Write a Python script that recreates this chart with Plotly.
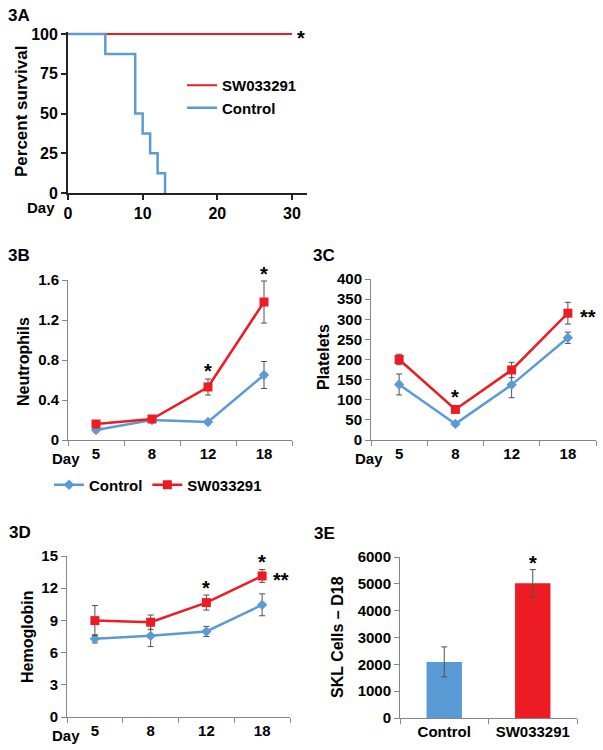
import plotly.graph_objects as go

W, H = 603, 750
def px(x): return x / W
def py(y): return 1 - y / H

# ---------------- data ----------------
# 3A survival (Kaplan-Meier step)
surv_days_ctrl = [0, 5, 9, 10, 11, 12, 13]
surv_ctrl = [100, 87.5, 50, 37.5, 25, 12.5, 0]
surv_days_sw = [0, 30]
surv_sw = [100, 100]

days = ["5", "8", "12", "18"]
# 3B neutrophils
neut_ctrl = [0.10, 0.20, 0.18, 0.65]
neut_ctrl_err = [0.02, 0.02, 0.02, 0.135]
neut_sw = [0.16, 0.21, 0.53, 1.38]
neut_sw_err = [0.02, 0.02, 0.08, 0.21]
# 3C platelets
plt_ctrl = [138, 40, 137, 254]
plt_ctrl_err = [26, 5, 32, 14]
plt_sw = [200, 76, 174, 315]
plt_sw_err = [13, 5, 19, 27]
# 3D hemoglobin
hgb_ctrl = [7.28, 7.56, 7.97, 10.45]
hgb_ctrl_err = [0.38, 1.0, 0.47, 1.02]
hgb_sw = [8.98, 8.83, 10.66, 13.14]
hgb_sw_err = [1.4, 0.67, 0.7, 0.6]
# 3E SKL cells
skl_groups = ["Control", "SW033291"]
skl = [2090, 5020]
skl_err = [560, 510]

BLUE = "#5B9BD5"
RED = "#ED1C24"
GRAY = "#868686"
FONT = "Liberation Sans, Arial, sans-serif"

fig = go.Figure()

# 3A
fig.add_trace(go.Scatter(x=surv_days_sw, y=surv_sw, mode="lines", name="SW033291",
                         line=dict(color=RED, width=2), xaxis="x", yaxis="y",
                         legend="legend2", cliponaxis=False))
fig.add_trace(go.Scatter(x=surv_days_ctrl, y=surv_ctrl, mode="lines", name="Control",
                         line=dict(color=BLUE, width=2.5, shape="hv"), xaxis="x", yaxis="y",
                         legend="legend2", cliponaxis=False))

def err(a):
    return dict(type="data", array=a, visible=True, color="#505050", thickness=1, width=3)

ctrl_marker = dict(symbol="diamond", size=8, color=BLUE)
sw_marker = dict(symbol="square", size=9, color=RED)

# 3B
fig.add_trace(go.Scatter(x=days, y=neut_ctrl, error_y=err(neut_ctrl_err), mode="lines+markers",
                         name="Control", line=dict(color=BLUE, width=2.5), marker=ctrl_marker,
                         xaxis="x2", yaxis="y2", legend="legend", cliponaxis=False))
fig.add_trace(go.Scatter(x=days, y=neut_sw, error_y=err(neut_sw_err), mode="lines+markers",
                         name="SW033291", line=dict(color=RED, width=2.5), marker=sw_marker,
                         xaxis="x2", yaxis="y2", legend="legend", cliponaxis=False))
# 3C
fig.add_trace(go.Scatter(x=days, y=plt_ctrl, error_y=err(plt_ctrl_err), mode="lines+markers",
                         showlegend=False, line=dict(color=BLUE, width=2.5), marker=ctrl_marker,
                         xaxis="x3", yaxis="y3", cliponaxis=False))
fig.add_trace(go.Scatter(x=days, y=plt_sw, error_y=err(plt_sw_err), mode="lines+markers",
                         showlegend=False, line=dict(color=RED, width=2.5), marker=sw_marker,
                         xaxis="x3", yaxis="y3", cliponaxis=False))
# 3D
fig.add_trace(go.Scatter(x=days, y=hgb_ctrl, error_y=err(hgb_ctrl_err), mode="lines+markers",
                         showlegend=False, line=dict(color=BLUE, width=2.5), marker=ctrl_marker,
                         xaxis="x4", yaxis="y4", cliponaxis=False))
fig.add_trace(go.Scatter(x=days, y=hgb_sw, error_y=err(hgb_sw_err), mode="lines+markers",
                         showlegend=False, line=dict(color=RED, width=2.5), marker=sw_marker,
                         xaxis="x4", yaxis="y4", cliponaxis=False))
# 3E
fig.add_trace(go.Bar(x=skl_groups, y=skl, error_y=err(skl_err), width=0.4,
                     marker=dict(color=[BLUE, RED], line=dict(width=0)),
                     showlegend=False, xaxis="x5", yaxis="y5"))

tickfont = dict(family=FONT, size=15, color="black", weight="bold")
tickfontA = dict(family=FONT, size=16, color="black", weight="bold")

def cat_x(x0, x1, anchor):
    return dict(domain=[px(x0), px(x1)], anchor=anchor, type="category", range=[-0.5, 3.5],
                showline=True, linecolor=GRAY, linewidth=1, ticks="outside", ticklen=5,
                tickcolor=GRAY, tickson="boundaries", showgrid=False, zeroline=False,
                tickfont=tickfont, automargin=False)

def val_y(y0, y1, anchor, rng, dtick):
    return dict(domain=[py(y1), py(y0)], anchor=anchor, range=rng, dtick=dtick,
                showline=True, linecolor=GRAY, linewidth=1, ticks="outside", ticklen=5,
                tickcolor=GRAY, showgrid=False, zeroline=False, tickfont=tickfont,
                automargin=False)

# 3A axes: 0 at px 68, 30 at px 292
xa_end = 307
xa_rng = (xa_end - 68) / ((292 - 68) / 30)
ya_top = 193 - (193 - 34) * 101.5 / 100

fig.update_layout(
    template="none",
    width=W, height=H, margin=dict(l=0, r=0, t=0, b=0, pad=0), autosize=False,
    paper_bgcolor="white", plot_bgcolor="white",
    font=dict(family=FONT, color="black"),
    xaxis=dict(domain=[px(68), px(xa_end)], anchor="y", range=[0, xa_rng],
               tickvals=[0, 10, 20, 30], showline=True, linecolor="#222", linewidth=1.8,
               ticks="outside", ticklen=5, tickcolor="#222", tickwidth=1.5,
               showgrid=False, zeroline=False, tickfont=tickfontA, automargin=False),
    yaxis=dict(domain=[py(193), py(ya_top)], anchor="x", range=[0, 101.5],
               tickvals=[0, 25, 50, 75, 100], showline=True, linecolor="#222", linewidth=1.8,
               ticks="outside", ticklen=5, tickcolor="#222", tickwidth=1.5,
               showgrid=False, zeroline=False, tickfont=tickfontA, automargin=False),
    xaxis2=cat_x(68, 292, "y2"),
    yaxis2=val_y(280, 440, "x2", [0, 1.6], 0.4),
    xaxis3=cat_x(371, 596, "y3"),
    yaxis3=val_y(279, 440, "x3", [0, 400], 50),
    xaxis4=cat_x(67, 290, "y4"),
    yaxis4=val_y(556, 717, "x4", [0, 15], 3),
    xaxis5=dict(domain=[px(400), px(577)], anchor="y5", type="category", range=[-0.5, 1.5],
                showline=True, linecolor=GRAY, linewidth=1, ticks="outside", ticklen=5,
                tickcolor=GRAY, tickson="boundaries", showgrid=False, zeroline=False,
                tickfont=tickfont, automargin=False),
    yaxis5=val_y(557, 718, "x5", [0, 6000], 1000),
    legend=dict(orientation="h", x=px(49), y=py(485), xanchor="left", yanchor="middle",
                font=dict(family=FONT, size=15, color="black", weight="bold"),
                bgcolor="rgba(0,0,0,0)", itemclick=False, itemdoubleclick=False),
    legend2=dict(orientation="v", x=px(182), y=py(69), xanchor="left", yanchor="top",
                 font=dict(family=FONT, size=15, color="black", weight="bold"),
                 bgcolor="rgba(0,0,0,0)", traceorder="normal", tracegroupgap=0,
                 itemclick=False, itemdoubleclick=False),
    showlegend=True,
)

ann = []
def label(text, x, y, size=17, angle=0):
    ann.append(dict(text=text, x=px(x), y=py(y), xref="paper", yref="paper",
                    showarrow=False, textangle=angle, xanchor="center", yanchor="middle",
                    font=dict(family=FONT, size=size, color="black", weight="bold")))

# panel labels
label("3A", 19, 15)
label("3B", 19, 255)
label("3C", 324, 256)
label("3D", 20, 532)
label("3E", 324, 533)
# axis titles
label("Percent survival", 22, 112, 17, -90)
label("Neutrophils", 23, 362, 16, -90)
label("Platelets", 323, 357, 16, -90)
label("Hemoglobin", 27, 637, 16, -90)
label("SKL Cells \u2013 D18", 337, 637, 16, -90)
# "Day" labels
label("Day", 41, 207, 15)
label("Day", 66, 458, 15)
label("Day", 369, 458, 15)
label("Day", 66, 735, 15)

def star(text, x, y, xref, yref, xshift=0, yshift=-4):
    ann.append(dict(text=text, x=x, y=y, xref=xref, yref=yref, showarrow=False,
                    xshift=xshift, yshift=yshift, xanchor="center", yanchor="middle",
                    font=dict(family=FONT, size=20, color="black", weight="bold")))

# category axes: annotation x given as category index
star("*", 31.2, surv_sw[-1], "x", "y")
star("*", 2, 0.73, "x2", "y2")
star("*", 3, 1.6, "x2", "y2", yshift=6)
star("*", 1, 117, "x3", "y3")
star("**", 3, plt_sw[3], "x3", "y3", xshift=20)
star("*", 2, 12.4, "x4", "y4")
star("*", 3, 14.85, "x4", "y4")
star("**", 3, hgb_sw[3], "x4", "y4", xshift=19)
star("*", 1, 5914, "x5", "y5")

fig.update_layout(annotations=ann)
fig.write_html("out.html", config={"displayModeBar": False},
               post_script="document.body.style.margin='0px';document.body.style.overflow='hidden';")
